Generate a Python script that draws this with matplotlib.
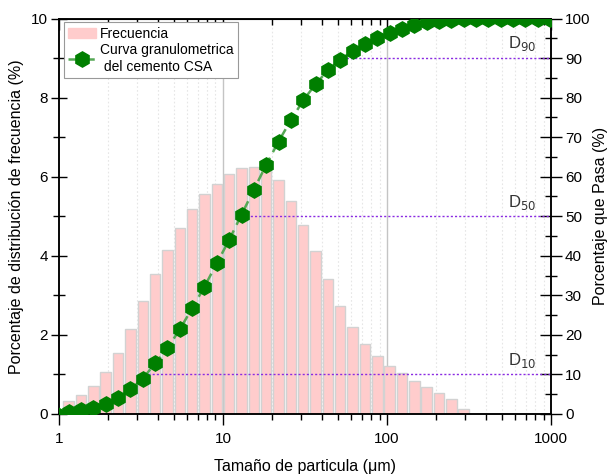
import matplotlib
matplotlib.use("Agg")
import matplotlib.pyplot as plt
import numpy as np
from matplotlib.ticker import FixedLocator, NullFormatter, MultipleLocator
from matplotlib.lines import Line2D
from matplotlib.patches import Patch

plt.rcParams['font.family'] = ['Liberation Sans', 'DejaVu Sans']

# Tamaño de particula (um) en el centro de cada clase
tamano = [1.146, 1.363, 1.621, 1.927, 2.292, 2.726, 3.242, 3.855, 4.584, 5.452,
          6.483, 7.710, 9.169, 10.90, 12.97, 15.42, 18.34, 21.81, 25.94, 30.84,
          36.67, 43.61, 51.87, 61.68, 73.35, 87.23, 103.7, 123.4, 146.7, 174.5,
          207.5, 246.7, 293.4]
# Frecuencia (%) por clase
frecuencia = [0.33, 0.48, 0.71, 1.05, 1.54, 2.16, 2.85, 3.53, 4.14, 4.70,
              5.19, 5.55, 5.82, 6.06, 6.23, 6.25, 6.25, 5.91, 5.39, 4.78,
              4.12, 3.41, 2.74, 2.19, 1.76, 1.46, 1.22, 1.03, 0.84, 0.69,
              0.52, 0.38, 0.13]

# Curva granulometrica (porcentaje que pasa)
tamano_curva = [0.964] + tamano + [348.9, 414.9, 493.4, 586.8, 697.8, 829.8, 986.8]
pasa = [0.0, 0.5, 1.1, 1.6, 2.6, 4.1, 6.2, 8.9, 12.8, 16.6,
        21.4, 26.7, 32.2, 38.1, 44.0, 50.4, 56.7, 63.0, 68.9, 74.3,
        79.3, 83.4, 86.9, 89.6, 91.8, 93.6, 95.1, 96.4, 97.4, 98.3,
        99.0, 99.4, 99.7, 99.9, 100, 100, 100, 100, 100, 100, 100]

# Diametros caracteristicos
d_nombres = ['D$_{10}$', 'D$_{50}$', 'D$_{90}$']
d_valores = [3.5, 13.0, 50.0]
d_pasa = [10, 50, 90]

fig = plt.figure(figsize=(6.13, 4.76), dpi=100)
ax = fig.add_axes([0.0962, 0.1303, 0.8027, 0.8308])
ax2 = ax.twinx()

# rejilla vertical
for dec in [1, 10, 100]:
    for m in range(2, 10):
        ax.axvline(dec * m, color='#e6e6e6', lw=0.8, ls=(0, (1.5, 2)), zorder=0)
for v in [10, 100]:
    ax.axvline(v, color='#c4c4c4', lw=1.0, zorder=0)

t = np.array(tamano)
izq = t / 10 ** 0.032
der = t * 10 ** 0.032
ax.bar(izq, frecuencia, width=der - izq, align='edge', color='#ffcccc',
       edgecolor='#d2d2d2', linewidth=1.0, zorder=2)

ax2.plot(tamano_curva, pasa, color='#55a855', ls=(0, (4, 2.5)), lw=1.8,
         marker='h', markersize=11, markerfacecolor='#007f00',
         markeredgecolor='#007f00', zorder=3)

for nombre, d, p in zip(d_nombres, d_valores, d_pasa):
    ax2.plot([d, 1000], [p, p], color='#8a2be2', ls=(0, (1.5, 1.5)), lw=1.0, zorder=2)
    ax2.text(810, p + 1.2, nombre, ha='right', va='bottom', fontsize=12, color='#333333')

ax.set_xscale('log')
ax.set_xlim(1, 1000)
ax.set_ylim(0, 10)
ax2.set_ylim(0, 100)

ax.set_xticks([1, 10, 100, 1000])
ax.set_xticklabels(['1', '10', '100', '1000'])
ax.xaxis.set_minor_locator(FixedLocator([d * m for d in [1, 10, 100] for m in range(2, 10)]))
ax.xaxis.set_minor_formatter(NullFormatter())
ax.set_yticks([0, 2, 4, 6, 8, 10])
ax.yaxis.set_minor_locator(MultipleLocator(1))
ax2.set_yticks(range(0, 101, 10))
ax2.yaxis.set_minor_locator(MultipleLocator(5))

ax.tick_params(axis='x', which='major', direction='out', length=8, width=1, labelsize=11,
               top=False, pad=5)
ax.tick_params(axis='x', which='minor', direction='out', length=4, width=1, top=False)
ax.tick_params(axis='y', which='major', direction='inout', length=12, width=1, labelsize=11, pad=2)
ax.tick_params(axis='y', which='minor', direction='inout', length=8, width=1)
ax2.tick_params(axis='y', which='major', direction='inout', length=16, width=1, labelsize=11, pad=2)
ax2.tick_params(axis='y', which='minor', direction='inout', length=8, width=1)
for a in (ax, ax2):
    for s in a.spines.values():
        s.set_linewidth(1.1)

# marcas del eje superior hacia adentro
axt = ax.secondary_xaxis('top')
axt.set_xticks([1, 10, 100, 1000])
axt.xaxis.set_minor_locator(FixedLocator([d * m for d in [1, 10, 100] for m in range(2, 10)]))
axt.tick_params(which='major', direction='in', length=8, width=1, labeltop=False)
axt.tick_params(which='minor', direction='in', length=4, width=1, labeltop=False)
axt.xaxis.set_minor_formatter(NullFormatter())

ax.set_xlabel('Tamaño de particula (μm)', fontsize=11.5, labelpad=9)
ax.set_ylabel('Porcentaje de distribución de frecuencia (%)', fontsize=11.5, labelpad=5)
ax2.set_ylabel('Porcentaje que Pasa (%)', fontsize=11.5, labelpad=2)

handles = [Patch(facecolor='#ffcccc', edgecolor='#ffcccc'),
           Line2D([], [], color='#55a855', ls=(0, (4, 2.5)), lw=1.8, marker='h',
                  markersize=11, markerfacecolor='#007f00', markeredgecolor='#007f00')]
leg = ax2.legend(handles, ['Frecuencia', 'Curva granulometrica\n del cemento CSA'],
                 loc='upper left', bbox_to_anchor=(0.01, 0.99), fontsize=10,
                 fancybox=False, edgecolor='#999999', framealpha=1,
                 handlelength=2.0, handletextpad=0.3, borderpad=0.3,
                 labelspacing=0.2, borderaxespad=0)
leg.get_frame().set_linewidth(0.8)

fig.savefig('out.png', dpi=100)
